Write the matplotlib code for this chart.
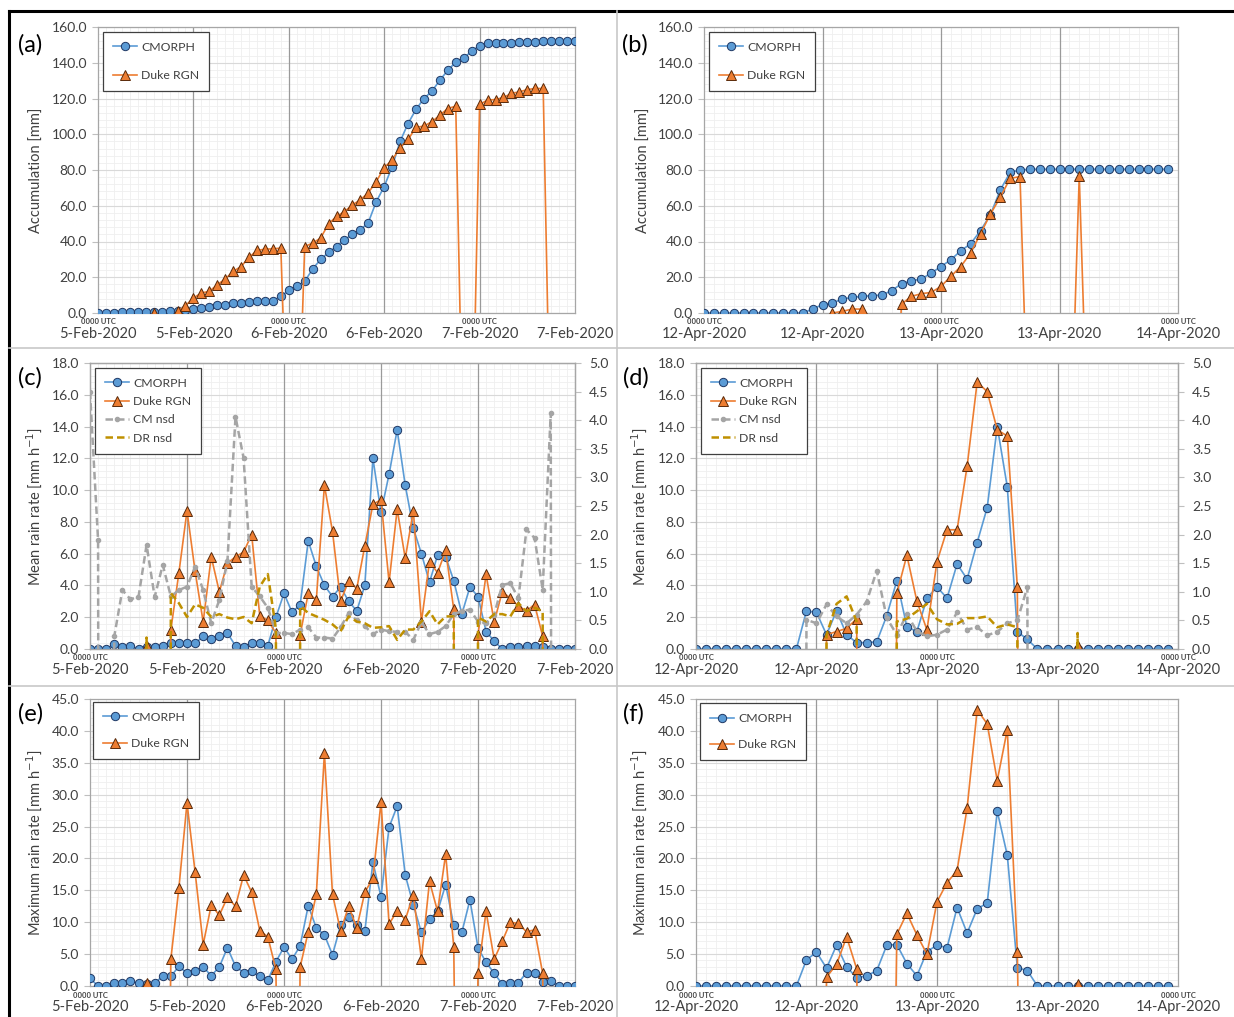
import numpy as np
import matplotlib.pyplot as plt
from matplotlib.lines import Line2D
from matplotlib.ticker import MultipleLocator, FormatStrFormatter

plt.rcParams['font.family'] = ['Lato', 'DejaVu Sans']

W, H = 1234, 1017
M = -99.0   # missing value -> drawn as the steep drop below the axis

# ---------------------------------------------------------------- data
feb_h = np.arange(61)          # hours from 5-Feb-2020 0000 UTC
apr_h = np.arange(48)          # hours from 12-Apr-2020 0000 UTC

feb_tick_labels = ['5-Feb-2020', '5-Feb-2020', '6-Feb-2020', '6-Feb-2020', '7-Feb-2020', '7-Feb-2020']
apr_tick_labels = ['12-Apr-2020', '12-Apr-2020', '13-Apr-2020', '13-Apr-2020', '14-Apr-2020']

# (a) accumulation, February
feb_acc_cm = [0, 0, 0, 0.3, 0.4, 0.5, 0.6, 0.7, 0.8, 1.0, 1.3, 1.6, 2.1,
              2.6, 3.3, 4.3, 4.7, 5.6, 5.8, 6.1, 6.5, 6.9, 6.9,
              9.3, 12.7, 14.9, 17.7, 24.6, 30.0, 33.9, 37.2, 40.9, 44.1, 46.5, 50.6, 62.3,
              70.7, 81.9, 96.0, 106.0, 113.9, 120.0, 124.1, 130.2, 135.8, 140.3, 142.7, 146.4, 149.6,
              151.1, 151.3, 151.3, 151.3, 151.6, 151.6, 151.8, 152.0, 152.0, 152.1, 152.2, 152.2]
feb_acc_dr = [M, M, M, M, M, M, M, 0.0, M, M,
              0.9, 4.1, 8.4, 11.2, 12.1, 15.8, 19.0, 23.3, 26.0, 31.1, 35.0, 35.7, 35.9, 36.3,
              M, M,
              37.2, 39.1, 41.9, 49.9, 54.0, 56.7, 60.5, 63.3, 67.3, 73.5, 81.3, 85.6, 92.5, 97.1,
              103.8, 104.6, 107.0, 110.7, 114.4, 115.7,
              M, M,
              116.7, 119.1, 119.4, 120.6, 122.8, 123.7, 125.0, 125.6, 125.6,
              M, M, M, M]

# (b) accumulation, April
apr_acc_cm = [0] * 11 + [2.2, 4.7, 5.6, 7.8, 8.7, 9.3, 9.7, 10.0, 12.5, 16.4, 18.0, 19.0, 22.3,
                         26.0, 29.8, 34.8, 38.7, 46.1, 54.9, 68.8, 78.7, 80.0] + [80.4] * 15
apr_acc_dr = [M] * 13 + [0.0, 0.9, 2.2, 2.2] + [M] * 3 + \
             [5.0, 9.3, 10.8, 11.5, 14.9, 20.5, 26.0, 33.5, 44.3, 55.3, 64.7, 75.3, 76.3] + \
             [M] * 5 + [76.7] + [M] * 9

# (c) mean rain rate, February
feb_mean_cm = [0.0, 0.0, 0.0, 0.3, 0.1, 0.2, 0.0, 0.1, 0.1, 0.2,
               0.4, 0.4, 0.35, 0.35, 0.8, 0.6, 0.8, 1.0, 0.2, 0.1,
               0.4, 0.4, 0.2, 2.0, 3.5, 2.3, 2.8, 6.8, 5.2, 4.0,
               3.3, 3.9, 3.0, 2.4, 4.0, 12.0, 8.6, 11.0, 13.8, 10.3,
               7.6, 6.0, 4.2, 5.9, 5.8, 4.3, 2.2, 3.9, 3.3, 1.1,
               0.5, 0.0, 0.1, 0.1, 0.2, 0.2, 0.1, 0.0, 0.0, 0.0, 0.0]
feb_mean_dr = [M, M, M, M, M, M, M, 0.2, M, M,
               1.2, 4.8, 8.7, 4.9, 1.7, 5.8, 3.6, 5.4, 5.8, 6.1, 7.2, 2.1, 1.8, 1.0,
               M, M,
               0.9, 3.5, 3.1, 10.3, 7.4, 3.0, 4.3, 3.8, 6.5, 9.1, 9.4, 4.2, 8.8, 5.7, 8.7, 1.7,
               5.5, 4.8, 6.2, 2.5,
               M, M,
               0.9, 4.7, 1.7, 3.6, 3.2, 2.7, 2.4, 2.8, 0.8,
               M, M, M, M]
feb_nsd_cm = [4.5, 1.9, M, 0.22, 1.03, 0.87, 0.91, 1.82, 0.91, 1.47,
              0.92, 1.03, 1.09, 1.44, 1.03, 0.45, 0.86, 1.53, 4.06, 3.34,
              1.09, 0.92, 0.72, 0.28, 0.28, 0.26, 0.34, 0.38, 0.20, 0.20,
              0.18, 0.38, 0.63, 0.50, 0.40, 0.26, 0.34, 0.31, 0.30, 0.30,
              0.16, 0.47, 0.26, 0.30, 0.40, 0.61, 0.66, 0.69, 0.48, 0.45,
              0.60, 1.12, 1.15, 0.89, 2.09, 1.94, 1.04, 4.13, M, M, M]
feb_nsd_dr = [M, M, M, M, M, M, M, 0.2, M, M,
              0.98, 0.8, 0.56, 0.78, 0.72, 0.56, 0.61, 0.55, 0.52, 0.56, 0.45, 1.09, 1.31, 0.35,
              M, M,
              0.75, 0.63, 0.57, 0.51, 0.43, 0.31, 0.57, 0.48, 0.45, 0.37, 0.38, 0.40, 0.16, 0.34,
              0.34, 0.48, 0.66, 0.43, 0.57, 0.57,
              M, M,
              0.55, 0.48, 0.61, 0.61, 0.57, 0.80, 0.66, 0.72, 0.66,
              M, M, M, M]

# (d) mean rain rate, April
apr_mean_cm = [0] * 11 + [2.4, 2.3, 0.9, 2.4, 0.9, 0.4, 0.4, 0.45, 2.1, 4.3, 1.4, 1.1, 3.2, 3.9,
                          3.2, 5.35, 4.4, 6.7, 8.9, 14.0, 10.2, 1.1, 0.6] + [0] * 14
apr_mean_dr = [M] * 13 + [0.9, 1.1, 1.3, 1.9] + [M] * 3 + \
              [3.5, 5.9, 3.0, 1.2, 5.5, 7.5, 7.5, 11.5, 16.8, 16.2, 13.8, 13.4, 3.9] + \
              [M] * 5 + [0.2] + [M] * 9
apr_nsd_cm = [M] * 11 + [0.51, 0.45, 0.78, 0.57, 0.45, 0.60, 0.83, 1.37, 0.54, 0.25, 0.61, 0.31,
                         0.22, 0.25, 0.34, 0.64, 0.34, 0.38, 0.24, 0.30, 0.45, 0.50, 1.08] + [M] * 14
apr_nsd_dr = [M] * 13 + [0.25, 0.79, 0.92, 0.48] + [M] * 3 + \
             [0.48, 0.53, 0.66, 0.79, 0.52, 0.43, 0.44, 0.54, 0.54, 0.57, 0.38, 0.43, 0.38] + \
             [M] * 5 + [0.28] + [M] * 9

# (e) maximum rain rate, February
feb_max_cm = [1.2, 0.0, 0.0, 0.4, 0.5, 0.8, 0.4, 0.3, 0.4, 1.6,
              1.5, 3.1, 2.0, 2.3, 3.0, 1.6, 3.0, 6.0, 3.1, 2.1,
              2.3, 1.5, 0.9, 3.8, 6.1, 4.2, 6.3, 12.6, 9.1, 8.0,
              4.9, 9.5, 10.8, 9.5, 8.6, 19.4, 14.0, 24.9, 28.2, 17.4,
              12.7, 8.4, 10.5, 11.7, 15.9, 9.5, 8.4, 13.5, 6.0, 3.7,
              2.0, 0.3, 0.4, 0.5, 2.1, 2.1, 0.7, 0.8, 0.0, 0.0, 0.0]
feb_max_dr = [M, M, M, M, M, M, M, 0.4, M, M,
              4.2, 15.4, 28.7, 17.9, 6.5, 12.7, 11.1, 13.9, 12.5, 17.4, 14.7, 8.7, 7.7, 2.6,
              M, M,
              3.0, 8.5, 14.4, 36.5, 14.4, 8.6, 12.5, 9.1, 14.7, 16.9, 28.8, 9.7, 11.8, 10.4,
              14.3, 4.2, 16.4, 11.7, 20.7, 6.1,
              M, M,
              2.1, 11.7, 4.2, 7.0, 10.0, 9.8, 8.5, 8.8, 2.0,
              M, M, M, M]

# (f) maximum rain rate, April
apr_max_cm = [0] * 11 + [4.1, 5.3, 2.8, 6.4, 3.0, 1.3, 1.6, 2.4, 6.4, 6.5, 3.5, 1.6, 5.4, 6.4,
                         6.0, 12.3, 8.3, 12.1, 13.0, 27.4, 20.5, 2.9, 2.4] + [0] * 14
apr_max_dr = [M] * 13 + [1.4, 3.4, 7.7, 2.7] + [M] * 3 + \
             [8.1, 11.4, 8.0, 5.0, 13.2, 16.2, 18.1, 27.9, 43.3, 41.1, 32.2, 40.2, 5.4] + \
             [M] * 5 + [0.3] + [M] * 9

# ---------------------------------------------------------------- styles
TXT = '#404040'
BLUE, BLUE_E = '#5B9BD5', '#1F3864'
ORNG, ORNG_E = '#ED7D31', '#5A2A0A'
GREY, GOLD = '#A5A5A5', '#BF9000'

fig = plt.figure(figsize=(W / 100, H / 100), dpi=100)


def add_ax(x0, y0, x1, y1):
    return fig.add_axes([x0 / W, 1 - y1 / H, (x1 - x0) / W, (y1 - y0) / H])


def setup(ax, nmax, ymax, ystep, labels, ylabel, box):
    # box = (left, top, right, bottom, x of the y label) in pixels
    x0, y0, x1, y1, xl = box
    ax.set_xlim(0, nmax)
    ax.set_ylim(0, ymax)
    ax.set_xticks(np.arange(0, nmax + 1, 12), labels)
    ax.xaxis.set_minor_locator(MultipleLocator(1))
    ax.yaxis.set_major_locator(MultipleLocator(ystep))
    ax.yaxis.set_minor_locator(MultipleLocator(ystep / 5))
    ax.yaxis.set_major_formatter(FormatStrFormatter('%.1f'))
    ax.set_axisbelow(True)
    ax.grid(which='minor', color='#efefef', lw=0.6)
    ax.grid(which='major', axis='y', color='#d9d9d9', lw=0.8)
    # 12-hour lines drawn above the light grid so they stay solid
    for t in ax.get_xticks()[1:-1]:
        ax.axvline(t, color='#9a9a9a', lw=0.9, zorder=1)
    ax.tick_params(axis='x', which='both', length=0, pad=10, labelsize=10.5, labelcolor=TXT)
    ax.tick_params(axis='y', which='major', length=4, width=0.8, color='#bfbfbf', pad=4,
                   labelsize=10, labelcolor=TXT)
    ax.tick_params(axis='y', which='minor', length=0)
    for s in ax.spines.values():
        s.set_color('#a6a6a6')
        s.set_linewidth(0.9)
    ax.set_ylabel(ylabel, fontsize=10.5, color=TXT)
    ax.yaxis.set_label_coords((xl - x0) / (x1 - x0), 0.5)
    for t in (0, 24, 48):
        ax.annotate('0000 UTC', xy=(t, 0), xycoords=('data', 'axes fraction'),
                    xytext=(0, -9), textcoords='offset pixels', ha='center', va='center',
                    fontsize=5.5, fontweight='bold', color=TXT, annotation_clip=False)


def main_series(ax, hours, cm, dr):
    ax.plot(hours, cm, color=BLUE, lw=1.2, marker='o', ms=6, mfc=BLUE, mec=BLUE_E,
            mew=0.7, label='CMORPH', zorder=3)
    ax.plot(hours, dr, color=ORNG, lw=1.2, marker='^', ms=6.5, mfc=ORNG, mec=ORNG_E,
            mew=0.7, label='Duke RGN', zorder=4)


def legend(ax, handles, pos, spacing):
    lg = ax.legend(handles=handles, loc='upper left', bbox_to_anchor=(pos[0] / W, 1 - pos[1] / H),
                   bbox_transform=fig.transFigure, borderaxespad=0, fontsize=8.8,
                   labelspacing=spacing, handlelength=2.0, handletextpad=0.3,
                   borderpad=0.8, fancybox=False, framealpha=1, edgecolor='#404040')
    lg.get_frame().set_linewidth(0.9)
    for t in lg.get_texts():
        t.set_color(TXT)
    return lg


acc_lbl = 'Accumulation [mm]'
mean_lbl = 'Mean rain rate [mm h$^{-1}$]'
max_lbl = 'Maximum rain rate [mm h$^{-1}$]'

# (a)
box = (98, 27, 575, 313, 44)
ax = add_ax(*box[:4])
main_series(ax, feb_h, feb_acc_cm, feb_acc_dr)
setup(ax, 60, 160, 20, feb_tick_labels, acc_lbl, box)
legend(ax, ax.get_lines()[:2], (103, 32), 1.4)

# (b)
box = (704, 27, 1178, 313, 651)
ax = add_ax(*box[:4])
main_series(ax, apr_h, apr_acc_cm, apr_acc_dr)
setup(ax, 48, 160, 20, apr_tick_labels, acc_lbl, box)
legend(ax, ax.get_lines()[:2], (709, 32), 1.4)


def rate_panel(box, hours, nmax, labels, cm, dr, ncm, ndr, lpos):
    ax = add_ax(*box[:4])
    main_series(ax, hours, cm, dr)
    setup(ax, nmax, 18, 2, labels, mean_lbl, box)
    ax2 = ax.twinx()
    ax2.set_ylim(0, 5)
    ax2.yaxis.set_major_locator(MultipleLocator(0.5))
    ax2.yaxis.set_major_formatter(FormatStrFormatter('%.1f'))
    ax2.tick_params(axis='y', length=4, width=0.8, color='#bfbfbf', pad=6,
                    labelsize=10, labelcolor=TXT)
    for s in ax2.spines.values():
        s.set_color('#a6a6a6')
        s.set_linewidth(0.9)
    ax2.plot(hours, ncm, color=GREY, lw=1.8, ls=(0, (3, 1.6)), marker='o', ms=3,
             mfc=GREY, mec=GREY, label='CM nsd', zorder=2)
    ax2.plot(hours, ndr, color=GOLD, lw=1.8, ls=(0, (3, 1.6)), label='DR nsd', zorder=2)
    legend(ax2, ax.get_lines()[:2] + ax2.get_lines(), lpos, 0.6)


# (c), (d)
rate_panel((90, 363, 575, 649, 44), feb_h, 60, feb_tick_labels,
           feb_mean_cm, feb_mean_dr, feb_nsd_cm, feb_nsd_dr, (95, 368))
rate_panel((696, 363, 1178, 649, 649), apr_h, 48, apr_tick_labels,
           apr_mean_cm, apr_mean_dr, apr_nsd_cm, apr_nsd_dr, (701, 368))

# (e)
box = (90, 699, 575, 986, 44)
ax = add_ax(*box[:4])
main_series(ax, feb_h, feb_max_cm, feb_max_dr)
setup(ax, 60, 45, 5, feb_tick_labels, max_lbl, box)
legend(ax, ax.get_lines()[:2], (93, 702), 1.25)

# (f)
box = (696, 699, 1178, 986, 649)
ax = add_ax(*box[:4])
main_series(ax, apr_h, apr_max_cm, apr_max_dr)
setup(ax, 48, 45, 5, apr_tick_labels, max_lbl, box)
legend(ax, ax.get_lines()[:2], (700, 703), 1.25)

# panel letters
for lab, x, y in [('(a)', 18, 45), ('(b)', 622, 45), ('(c)', 18, 378),
                  ('(d)', 623, 378), ('(e)', 18, 714), ('(f)', 623, 714)]:
    fig.text(x / W, 1 - y / H, lab, fontsize=17, ha='left', va='center', color='black')


# frame and separators of the composite figure
def fline(xs, ys, **kw):
    fig.add_artist(Line2D([x / W for x in xs], [1 - y / H for y in ys], **kw))


fline([9, 1234], [11, 11], color='black', lw=2.2)
fline([9, 9], [11, 1017], color='black', lw=2.2)
fline([9, 1234], [348, 348], color='#c8c8c8', lw=1.2)
fline([9, 1234], [686, 686], color='#c8c8c8', lw=1.2)
fline([617, 617], [11, 1017], color='#c8c8c8', lw=1.2)

fig.savefig('out.png', dpi=100)
